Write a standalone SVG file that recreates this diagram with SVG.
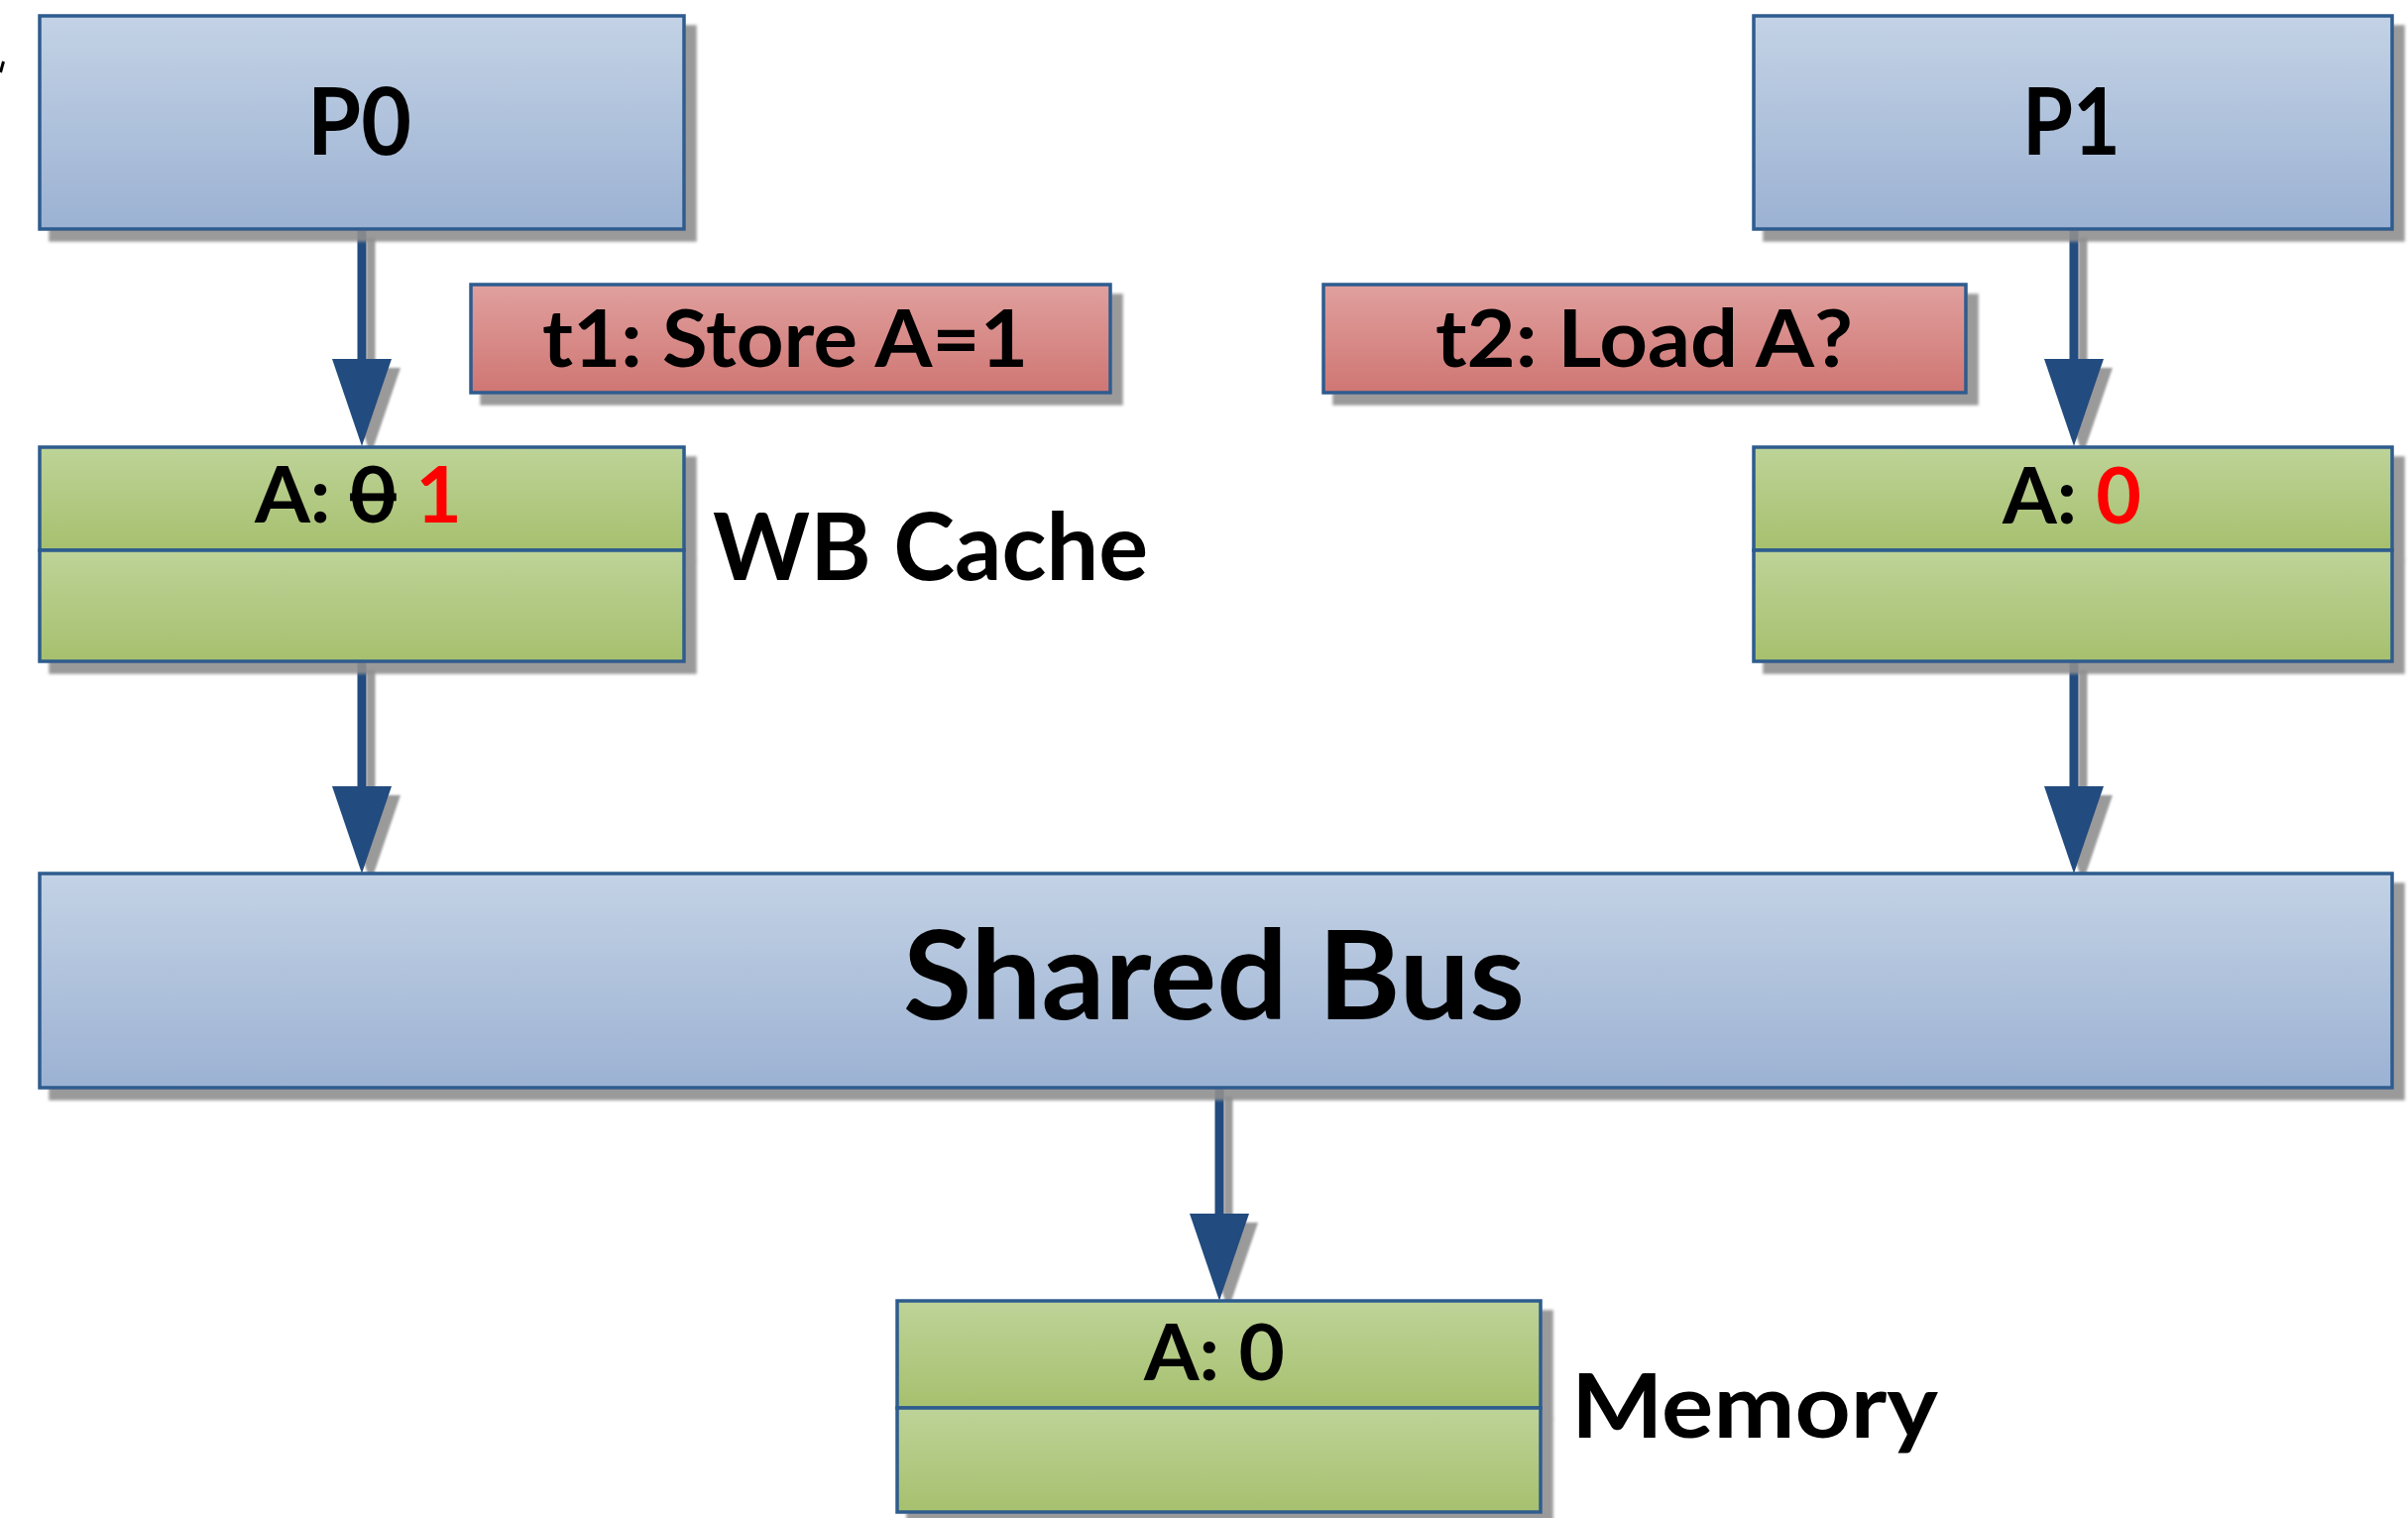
<svg xmlns="http://www.w3.org/2000/svg" width="2429" height="1531" viewBox="0 0 2429 1531">
  <defs>
    <linearGradient id="gBlue" x1="0" y1="0" x2="0" y2="1">
      <stop offset="0" stop-color="#c3d2e5"/>
      <stop offset="1" stop-color="#9cb2d3"/>
    </linearGradient>
    <linearGradient id="gGreen" x1="0" y1="0" x2="0" y2="1">
      <stop offset="0" stop-color="#bed398"/>
      <stop offset="1" stop-color="#a6c06e"/>
    </linearGradient>
    <linearGradient id="gRed" x1="0" y1="0" x2="0" y2="1">
      <stop offset="0" stop-color="#e0a09e"/>
      <stop offset="1" stop-color="#cf7673"/>
    </linearGradient>
    <filter id="shadow" x="-5%" y="-5%" width="115%" height="130%">
      <feDropShadow dx="11" dy="11" stdDeviation="1.5" flood-color="#8f8f8f" flood-opacity="0.9"/>
    </filter>
    <filter id="lineShadow" x="-50%" y="-10%" width="200%" height="130%">
      <feDropShadow dx="9" dy="9" stdDeviation="1.2" flood-color="#8f8f8f" flood-opacity="0.9"/>
    </filter>
    <marker id="head" markerUnits="userSpaceOnUse" markerWidth="90" markerHeight="62" viewBox="0 0 90 62" refX="0" refY="31" orient="auto">
      <path d="M0,1 L88,31 L0,61 Z" fill="#224c7f"/>
    </marker>
  </defs>
  <style>
    .box { stroke: #2d5b8e; stroke-width: 3.5; }
    .blue { fill: url(#gBlue); }
    .green { fill: url(#gGreen); }
    .red { fill: url(#gRed); }
    .lbl { font-family: Lato, "Open Sans", "Liberation Sans", sans-serif; font-weight: bold; fill: #000; }
    .hot { fill: #ff0000; }
    .wire { stroke: #224c7f; stroke-width: 9; fill: none; marker-end: url(#head); }
  </style>
  <rect width="2429" height="1531" fill="#ffffff"/>

  <!-- edge fragment at the left border -->
  <line x1="0.5" y1="73" x2="3.5" y2="62" stroke="#000" stroke-width="3"/>

  <!-- connectors -->
  <g id="connectors" filter="url(#lineShadow)">
    <path class="wire" d="M365,231 V362"/>
    <path class="wire" d="M365,667 V793"/>
    <path class="wire" d="M2092,231 V362"/>
    <path class="wire" d="M2092,667 V793"/>
    <path class="wire" d="M1230,1097 V1224"/>
  </g>

  <!-- processor P0 -->
  <g id="p0">
    <rect class="box blue" x="40" y="16" width="650" height="215" filter="url(#shadow)"/>
    <text class="lbl" x="310" y="156" font-size="93" textLength="105" lengthAdjust="spacingAndGlyphs">P0</text>
  </g>

  <!-- processor P1 -->
  <g id="p1">
    <rect class="box blue" x="1769" y="16" width="644" height="215" filter="url(#shadow)"/>
    <text class="lbl" x="2040" y="156" font-size="93" textLength="99" lengthAdjust="spacingAndGlyphs">P1</text>
  </g>

  <!-- operation t1 -->
  <g id="op-t1">
    <rect class="box red" x="475" y="287" width="645" height="109" filter="url(#shadow)"/>
    <text class="lbl" x="547" y="370" font-size="80" textLength="490" lengthAdjust="spacingAndGlyphs">t1: Store A=1</text>
  </g>

  <!-- operation t2 -->
  <g id="op-t2">
    <rect class="box red" x="1335" y="287" width="648" height="109" filter="url(#shadow)"/>
    <text class="lbl" x="1448" y="370" font-size="80" textLength="421" lengthAdjust="spacingAndGlyphs">t2: Load A?</text>
  </g>

  <!-- write-back cache of P0 -->
  <g id="cache-p0">
    <g filter="url(#shadow)">
      <rect class="box green" x="40" y="451" width="650" height="104"/>
      <rect class="box green" x="40" y="555" width="650" height="112"/>
    </g>
    <text class="lbl" x="257" y="527" font-size="78" textLength="209" lengthAdjust="spacingAndGlyphs">A: <tspan text-decoration="line-through">0</tspan> <tspan class="hot">1</tspan></text>
  </g>
  <text id="label-wb" class="lbl" x="719" y="585" font-size="93" textLength="439" lengthAdjust="spacingAndGlyphs">WB Cache</text>

  <!-- write-back cache of P1 -->
  <g id="cache-p1">
    <g filter="url(#shadow)">
      <rect class="box green" x="1769" y="451" width="644" height="104"/>
      <rect class="box green" x="1769" y="555" width="644" height="112"/>
    </g>
    <text class="lbl" x="2020" y="528" font-size="78" textLength="140" lengthAdjust="spacingAndGlyphs">A: <tspan class="hot">0</tspan></text>
  </g>

  <!-- shared bus -->
  <g id="bus">
    <rect class="box blue" x="40" y="881" width="2373" height="216" filter="url(#shadow)"/>
    <text class="lbl" x="911" y="1028" font-size="125" textLength="627" lengthAdjust="spacingAndGlyphs">Shared Bus</text>
  </g>

  <!-- main memory -->
  <g id="memory">
    <g filter="url(#shadow)">
      <rect class="box green" x="905" y="1312" width="649" height="108"/>
      <rect class="box green" x="905" y="1420" width="649" height="105"/>
    </g>
    <text class="lbl" x="1154" y="1392" font-size="78" textLength="142" lengthAdjust="spacingAndGlyphs">A: 0</text>
  </g>
  <text id="label-mem" class="lbl" x="1585" y="1450" font-size="90" textLength="370" lengthAdjust="spacingAndGlyphs">Memory</text>
</svg>
